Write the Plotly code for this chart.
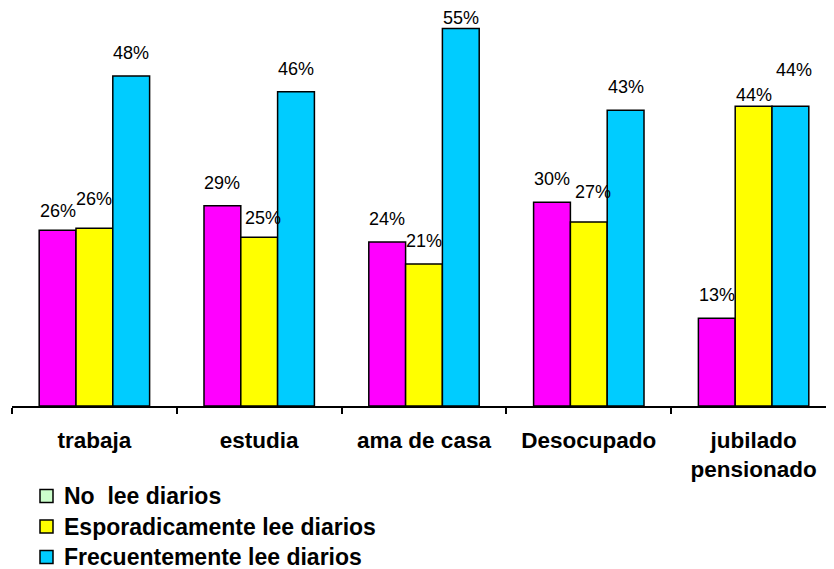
import plotly.graph_objects as go

categories = ["trabaja", "estudia", "ama de casa", "Desocupado", "jubilado<br>pensionado"]
series_names = ["No  lee diarios", "Esporadicamente lee diarios", "Frecuentemente lee diarios"]
no_lee = [0.256, 0.292, 0.239, 0.297, 0.128]
esporadico = [0.259, 0.246, 0.207, 0.268, 0.437]
frecuente = [0.481, 0.458, 0.550, 0.431, 0.437]

values = [no_lee, esporadico, frecuente]
bar_colors = ["#FF00FF", "#FFFF00", "#00CCFF"]
legend_colors = ["#CCFFCC", "#FFFF00", "#00CCFF"]

FONT = "Arial, Liberation Sans, sans-serif"

# figure geometry (pixels)
W, H = 834, 569
ML, MR, MT, MB = 4, 6, 0, 171
PW, PH = W - ML - MR, H - MT - MB


def px_to_paper(fx, fy):
    return (fx - ML) / PW, (PH + MT - fy) / PH


fig = go.Figure()
for name, vals, col in zip(series_names, values, bar_colors):
    fig.add_trace(go.Bar(
        x=categories, y=vals, name=name, showlegend=False,
        marker=dict(color=col, line=dict(color="#000000", width=1.5)),
    ))

# value labels (placed above bars, Excel-style with a few nudges to avoid overlap)
base_shift = 23
nudge_y = {(0, 0): -4, (0, 1): 6, (1, 1): -4, (2, 2): -12, (3, 1): 7, (4, 1): -12, (4, 2): 13}
nudge_x = {(1, 1): 4, (3, 1): 4, (4, 2): 4}
bar_step = PW / len(categories) * (1 - 0.33) / 3
for s, vals in enumerate(values):
    for c, (cat, v) in enumerate(zip(categories, vals)):
        fig.add_annotation(
            x=cat, y=v, xref="x", yref="y",
            text=f"{round(v * 100):.0f}%", showarrow=False,
            xshift=(s - 1) * bar_step + nudge_x.get((c, s), 0),
            yshift=base_shift + nudge_y.get((c, s), 0),
            yanchor="middle", xanchor="center",
            font=dict(family=FONT, size=18, color="#000000"),
        )

# legend (drawn manually; the reference swatch for the first series is light green)
leg_top, leg_step, sw = 488, 30.5, 13
sw_x0, txt_x = 32, 54
for i, (name, col) in enumerate(zip(series_names, legend_colors)):
    ry = leg_top + i * leg_step
    x0, y0 = px_to_paper(sw_x0, ry + sw / 2)
    x1, y1 = px_to_paper(sw_x0 + sw, ry - sw / 2)
    fig.add_shape(type="rect", xref="paper", yref="paper", x0=x0, x1=x1, y0=y0, y1=y1,
                  fillcolor=col, line=dict(color="#000000", width=1.5))
    tx, ty = px_to_paper(txt_x, ry)
    fig.add_annotation(x=tx, y=ty, xref="paper", yref="paper", text=name.replace("  ", "&nbsp; "),
                       showarrow=False, xanchor="left", yanchor="middle",
                       font=dict(family=FONT, size=23, color="#000000", weight="bold"))

fig.update_layout(
    width=W, height=H,
    margin=dict(l=ML, r=MR, t=MT, b=MB, autoexpand=False),
    paper_bgcolor="white", plot_bgcolor="white",
    barmode="group", bargap=0.33, bargroupgap=0,
    showlegend=False,
    xaxis=dict(
        showline=True, linecolor="#000000", linewidth=1.5,
        ticks="outside", tickson="boundaries", ticklen=6, tickcolor="#000000", tickwidth=1.5,
        tickfont=dict(family=FONT, size=22.5, color="#000000", weight="bold"),
        ticklabelstandoff=13,
        showgrid=False, zeroline=False,
    ),
    yaxis=dict(
        range=[0, 0.58], visible=False, showgrid=False, zeroline=False,
    ),
)

fig.write_html("out.html")
